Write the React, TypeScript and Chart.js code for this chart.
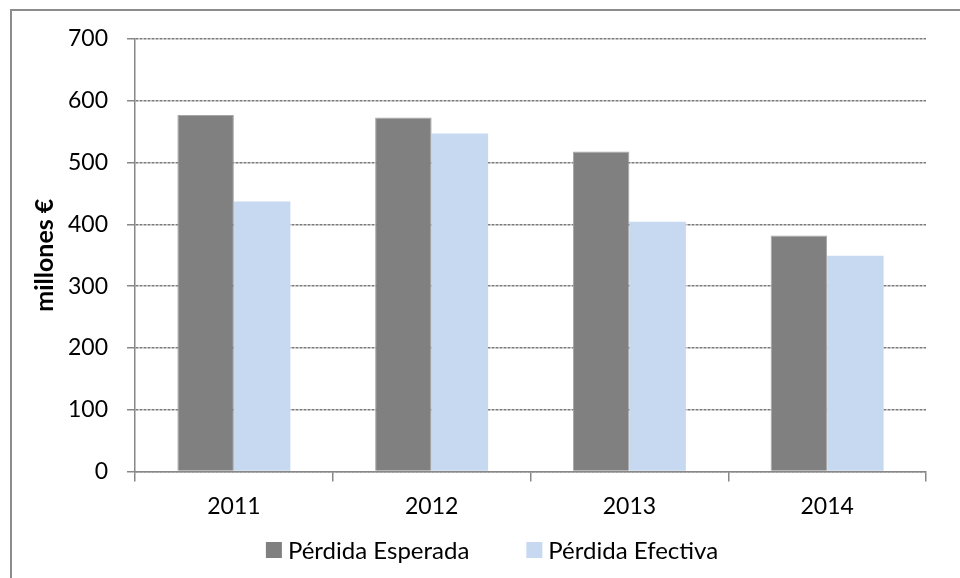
import React, { useEffect, useRef } from "react";
import { Chart, registerables } from "chart.js";

Chart.register(...registerables);

const categories = ["2011", "2012", "2013", "2014"];
const seriesNames = ["Pérdida Esperada", "Pérdida Efectiva"];
const esperada = [577, 573, 518, 382];
const efectiva = [437, 547, 404, 349];
const yTicks = [0, 100, 200, 300, 400, 500, 600, 700];
const yTitle = "millones €";

const FONT = "Lato, 'Open Sans', sans-serif";

const framePlugin = {
  id: "frame",
  beforeDraw(chart: any) {
    const ctx = chart.ctx;
    ctx.save();
    ctx.fillStyle = "#ffffff";
    ctx.fillRect(0, 0, chart.width, chart.height);
    ctx.strokeStyle = "#8c8c8c";
    ctx.lineWidth = 2;
    ctx.beginPath();
    ctx.moveTo(11, chart.height + 2);
    ctx.lineTo(11, 10);
    ctx.lineTo(chart.width + 2, 10);
    ctx.stroke();
    ctx.restore();
  },
};

const yTitlePlugin = {
  id: "yTitle",
  afterDraw(chart: any) {
    const o = chart.options.plugins.yTitle;
    const ctx = chart.ctx;
    const area = chart.chartArea;
    ctx.save();
    ctx.translate(o.x, (area.top + area.bottom) / 2);
    ctx.rotate(-Math.PI / 2);
    ctx.font = `bold ${o.size}px ${FONT}`;
    ctx.fillStyle = "#000";
    ctx.textAlign = "center";
    ctx.textBaseline = "middle";
    ctx.fillText(o.text, 0, 0);
    ctx.restore();
  },
};

const legendPlugin = {
  id: "customLegend",
  afterDraw(chart: any) {
    const ctx = chart.ctx;
    const o = chart.options.plugins.customLegend;
    ctx.save();
    ctx.font = `${o.size}px ${FONT}`;
    const items = chart.data.datasets.map((ds: any) => ({
      text: ds.label,
      color: ds.backgroundColor,
      w: ctx.measureText(ds.label).width,
    }));
    const total = items.reduce(
      (s: number, it: any, i: number) => s + o.box + o.boxGap + it.w + (i > 0 ? o.itemGap : 0),
      0
    );
    let x = o.centerX - total / 2;
    ctx.textBaseline = "middle";
    ctx.textAlign = "left";
    items.forEach((it: any, i: number) => {
      if (i > 0) x += o.itemGap;
      ctx.fillStyle = it.color;
      ctx.fillRect(x, o.centerY - o.box / 2, o.box, o.box);
      x += o.box + o.boxGap;
      ctx.fillStyle = "#000";
      ctx.fillText(it.text, x, o.centerY + 1);
      x += it.w;
    });
    ctx.restore();
  },
};

export default function App() {
  const ref = useRef<HTMLCanvasElement>(null);
  useEffect(() => {
    if (!ref.current) return;
    const chart = new Chart(ref.current, {
      type: "bar",
      data: {
        labels: categories,
        datasets: [
          {
            label: seriesNames[0],
            data: esperada,
            backgroundColor: "#808080",
            borderColor: "#a6a6a6",
            borderWidth: 1,
          },
          {
            label: seriesNames[1],
            data: efectiva,
            backgroundColor: "#c6d9f1",
            borderWidth: 0,
          },
        ],
      },
      options: {
        responsive: false,
        animation: false,
        datasets: { bar: { categoryPercentage: 2 / 3.5, barPercentage: 1 } },
        layout: { padding: { top: 39, right: 34, left: 0, bottom: 47 } },
        plugins: {
          tooltip: { enabled: false },
          legend: { display: false },
          customLegend: { size: 24, box: 16, boxGap: 6, itemGap: 57, centerX: 492, centerY: 550 },
          yTitle: { text: yTitle, size: 25, x: 45 },
        } as any,
        scales: {
          x: {
            grid: {
              offset: true,
              drawOnChartArea: false,
              drawTicks: true,
              tickLength: 10,
              color: "#888888",
              lineWidth: 1.5,
            },
            border: { display: true, color: "#888888", width: 1.5 },
            ticks: { color: "#000", font: { family: FONT, size: 23 }, padding: 11 },
          },
          y: {
            min: 0,
            max: 700,
            afterFit(scale: any) {
              scale.width = 135;
            },
            afterBuildTicks(scale: any) {
              scale.ticks = yTicks.map((v) => ({ value: v }));
            },
            grid: {
              color: "#7a7a7a",
              lineWidth: 1.5,
              tickLength: 8,
              tickBorderDash: [],
              tickWidth: 1.5,
              tickColor: "#888888",
            },
            border: { display: true, color: "#888888", width: 1.5, dash: [3, 1] },
            ticks: { color: "#000", font: { family: FONT, size: 23 }, padding: 19 },
          },
        },
      },
      plugins: [framePlugin, legendPlugin, yTitlePlugin],
    });
    return () => chart.destroy();
  }, []);
  return (
    <div style={{ position: "fixed", left: 0, top: 0, width: 960, height: 578, background: "#fff" }}>
      <canvas ref={ref} width={960} height={578} style={{ display: "block" }} />
    </div>
  );
}
